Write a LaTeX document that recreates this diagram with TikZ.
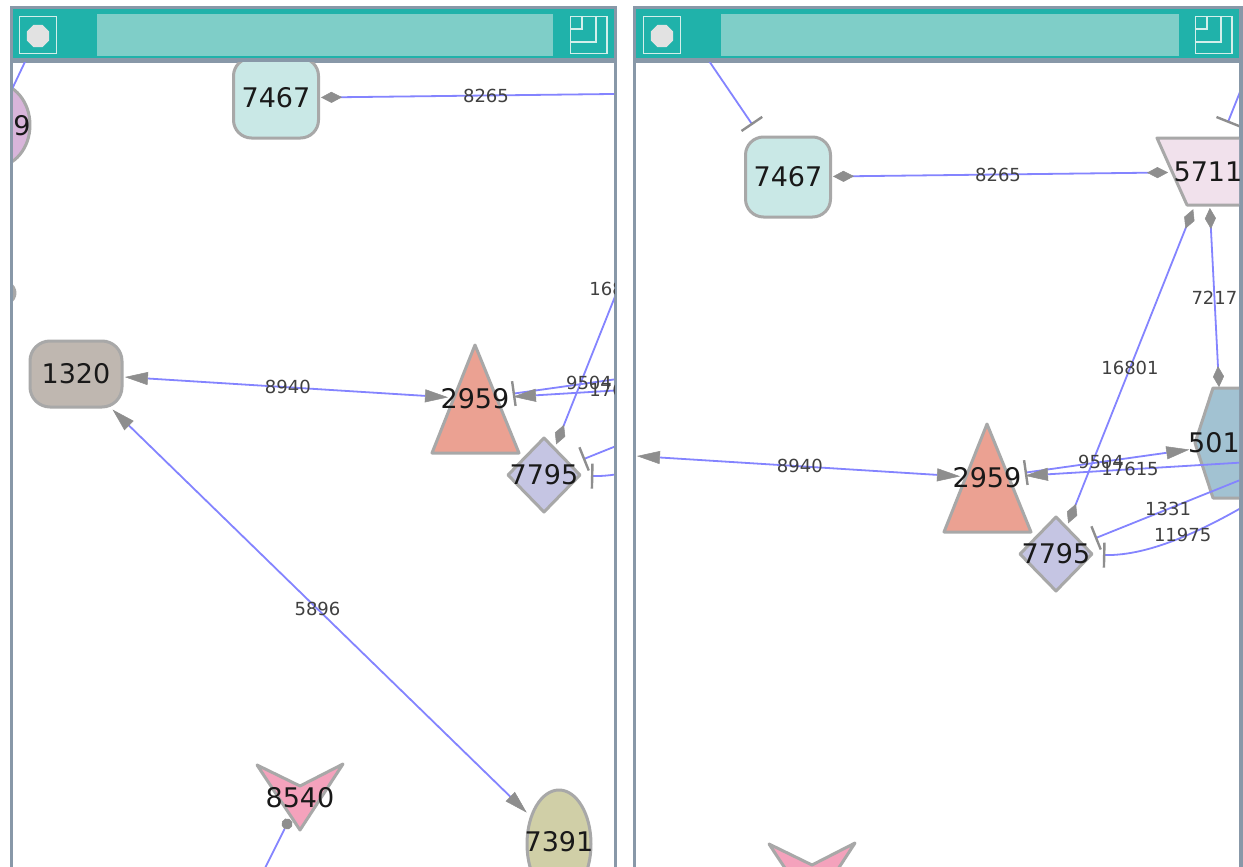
\documentclass[tikz,border=0pt]{standalone}
\usepackage{fontspec}
\setmainfont{DejaVu Sans}
\usetikzlibrary{arrows.meta,shapes.geometric}
\definecolor{framec}{HTML}{8898A8}
\definecolor{tealc}{HTML}{20B2AA}
\definecolor{hatchc}{HTML}{7FCEC8}
\definecolor{iconcol}{HTML}{D4EFEB}
\definecolor{octc}{HTML}{E2E2E2}
\definecolor{edgeblue}{HTML}{8484FF}
\definecolor{tipgray}{HTML}{8E8E8E}
\definecolor{nodebd}{HTML}{A8A8A8}
\definecolor{f7467}{HTML}{C9E8E6}
\definecolor{f1320}{HTML}{BFB7B0}
\definecolor{f2959}{HTML}{EBA192}
\definecolor{f7795}{HTML}{C5C5E3}
\definecolor{f8540}{HTML}{F4A2BC}
\definecolor{f7391}{HTML}{D0CFA7}
\definecolor{f5711}{HTML}{F1E1EC}
\definecolor{f501}{HTML}{A2C2D2}
\definecolor{fpurple}{HTML}{D8B5DA}
\definecolor{fgrey}{HTML}{A6A6A6}
\tikzset{
  nshape/.style={draw=nodebd, line width=3pt, line join=round},
  nlbl/.style={inner sep=0pt, font=\fontsize{27}{27}\selectfont, text=black!90},
  elbl/.style={inner sep=0pt, font=\fontsize{18}{18}\selectfont, text=black!75},
  edge/.style={draw=edgeblue, line width=1.8pt},
  Dm/.tip={Diamond[length=21pt,width=11pt,color=tipgray,fill=tipgray,line width=0.5pt]},
  Ar/.tip={Triangle[length=23pt,width=13pt,color=tipgray,fill=tipgray,line width=0.5pt]},
  Tb/.tip={Bar[width=25pt,color=tipgray,line width=2.4pt]},
  Dt/.tip={Circle[length=11pt,color=tipgray,fill=tipgray,line width=0.5pt]},
  iconln/.style={draw=iconcol, line width=1.6pt},
}
% graph drawn in right-panel coordinates
\newcommand\gshapes{%
  \coordinate (c7467) at (788,177);
  \coordinate (c5711) at (1208,172);
  \coordinate (c501) at (1222,445);
  \coordinate (c2959) at (987,478);
  \coordinate (c7795) at (1056,554);
  \coordinate (c1320) at (588,453);
  \coordinate (c8540) at (812,877);
  \coordinate (c7391) at (1071,923);
  \coordinate (cpur) at (507,204);
  \coordinate (cgry) at (507,372);
  \coordinate (t7467) at (675,11);
  \coordinate (t5711) at (1262,37);
  \coordinate (tpur) at (545,124);
  \coordinate (e17615) at (1300,459);
  \coordinate (e1331) at (1295,458);
  \coordinate (e11975) at (1290,478);
  \coordinate (e8540) at (762,977);
  \path[nshape, fill=fpurple] (cpur) ellipse [x radius=35, y radius=42];
  \path[nshape, fill=fgrey] (cgry) ellipse [x radius=20, y radius=14];
  \path[nshape, fill=f7467, rounded corners=18pt] (745.5,137) rectangle (830.5,217);
  \path[nshape, fill=f1320, rounded corners=20pt] (542,420) rectangle (634,486);
  \path[nshape, fill=f2959] (987,424) -- (1031,532) -- (944,532) -- cycle;
  \path[nshape, fill=f7795] (1020,554) -- (1056,517) -- (1092,554) -- (1056,591) -- cycle;
  \path[nshape, fill=f8540] (769,844) -- (812,865) -- (855,843) -- (812,909) -- cycle;
  \path[nshape, fill=f7391] (c7391) ellipse [x radius=32, y radius=54];
  \path[nshape, fill=f5711] (1157,138) -- (1268,138) -- (1298,205) -- (1187,205) -- cycle;
  \path[nshape, fill=f501] (1195,443) -- (1213,388) -- (1267,388) -- (1285,443) -- (1267,498) -- (1213,498) -- cycle;
}
\newcommand\gedges{%
  \draw[edge, {Dm}-{Dm}, shorten <=45pt, shorten >=40pt] (c7467) -- node[elbl, midway] (l8265) {8265} (c5711);
  \draw[edge, {Ar}-{Ar}, shorten <=27pt, shorten >=49pt] (c2959) -- node[elbl, pos=0.469] (l8940) {8940} (c1320);
  \draw[edge, {Dm}-{Dm}, shorten <=33pt, shorten >=40pt] (c7795) -- node[elbl, pos=0.487] (l16801) {16801} (c5711);
  \draw[edge, {Dm}-{Dm}, shorten <=36pt, shorten >=58pt] (c5711) -- node[elbl, pos=0.46] (l7217) {7217} (c501);
  \draw[edge, {Tb}-{Ar}, shorten <=38pt, shorten >=33pt] (c2959) -- node[elbl, pos=0.485] (l9504) {9504} (c501);
  \draw[edge, {Ar}-, shorten <=38pt] (c2959) -- node[elbl, pos=0.457] (l17615) {17615} (e17615);
  \draw[edge, {Tb}-, shorten <=42pt] (c7795) -- node[elbl, pos=0.469] (l1331) {1331} (e1331);
  \draw[edge, {Tb}-, shorten <=47pt] (c7795) .. controls (1150,556) and (1210,530) .. node[elbl, pos=0.52] (l11975) {11975} (e11975);
  \draw[edge, -{Tb}, shorten >=63pt] (t7467) -- (c7467);
  \draw[edge, -{Tb}, shorten >=53pt] (t5711) -- (c5711);
  \draw[edge, shorten >=40pt] (tpur) -- (cpur);
  \draw[edge, {Dt}-, shorten <=23.5pt] (c8540) -- (e8540);
}
\newcommand\glabels{%
  \node[nlbl] (n7467) at (c7467) {7467};
  \node[nlbl] (n2959) at (c2959) {2959};
  \node[nlbl] (n7795) at (c7795) {7795};
  \node[nlbl] (n5711) at (c5711) {5711};
  \node[nlbl, anchor=west] (n501) at (1188,443) {501};
}
\begin{document}
\begin{tikzpicture}[x=1pt, y=-1pt]
\useasboundingbox (0,0) rectangle (1243,867);
\fill[white] (0,0) rectangle (1243,867);
% ---------- left panel ----------
\fill[framec] (10,6) rectangle (617,880);
\fill[white] (13,63) rectangle (614,880);
\fill[tealc] (13,9) rectangle (614,58);
\fill[hatchc] (97,14) rectangle (553,56);
\draw[iconln] (19.5,16.5) rectangle (56.5,53.5);
\node[regular polygon, regular polygon sides=8, minimum size=24pt, inner sep=0pt, fill=octc] (octL) at (38,36) {};
\draw[iconln] (570.5,16.5) rectangle (607,53.5);
\draw[iconln] (571,42) -- (596,42) -- (596,17);
\draw[iconln] (571,29) -- (582,29) -- (582,17);
\begin{scope}
  \clip (13,63) rectangle (614,867);
  \begin{scope}[shift={(-512,-79)}]
    \gshapes
    \gedges
    \draw[edge, {Ar}-{Ar}, shorten <=51pt, shorten >=45pt] (c1320) -- node[elbl, midway] (l5896) {5896} (c7391);
    \glabels
    \node[nlbl] (n1320) at (c1320) {1320};
    \node[nlbl] (n8540) at (c8540) {8540};
    \node[nlbl] (n7391) at (1071,921) {7391};
    \node[nlbl] (npur) at (534,205) {9};
  \end{scope}
\end{scope}
% ---------- right panel ----------
\fill[framec] (633,6) rectangle (1243,880);
\fill[white] (636,63) rectangle (1239,880);
\fill[tealc] (636,9) rectangle (1239,58);
\fill[hatchc] (721,14) rectangle (1179,56);
\draw[iconln] (643.5,16.5) rectangle (680.5,53.5);
\node[regular polygon, regular polygon sides=8, minimum size=24pt, inner sep=0pt, fill=octc] (octR) at (662,36) {};
\draw[iconln] (1195.5,16.5) rectangle (1232,53.5);
\draw[iconln] (1196,42) -- (1221,42) -- (1221,17);
\draw[iconln] (1196,29) -- (1207,29) -- (1207,17);
\begin{scope}
  \clip (636,63) rectangle (1239,867);
  \gshapes
  \gedges
  \glabels
\end{scope}
\end{tikzpicture}
\end{document}
